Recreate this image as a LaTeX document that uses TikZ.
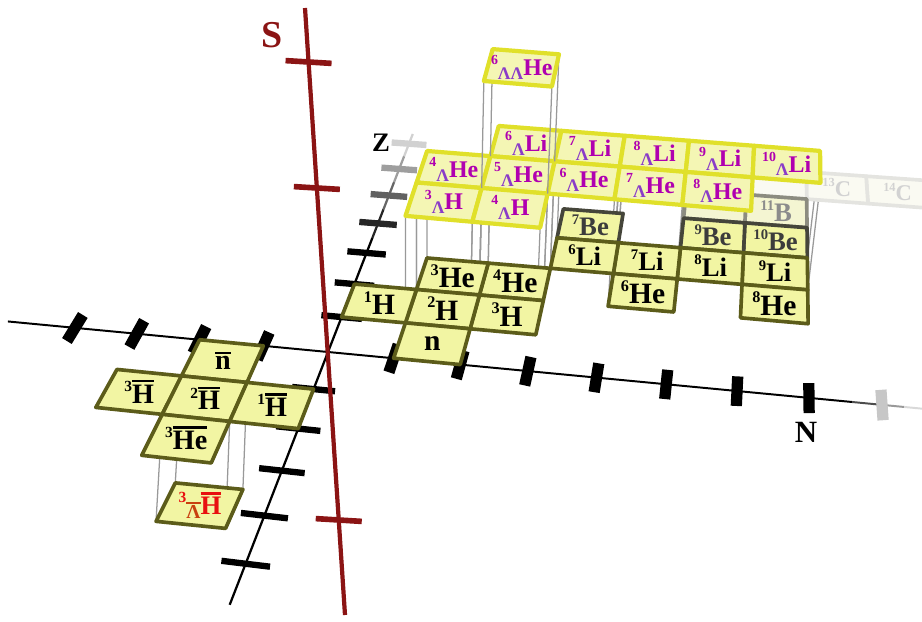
\documentclass[tikz,border=0pt]{standalone}
\usepackage{fontspec}
\setmainfont{Liberation Serif}

\newcommand{\mass}[1]{\raisebox{0.42em}{\scalebox{0.55}{#1}}}
\newcommand{\anti}[1]{\vbox{\hrule height 0.09em\kern0.08em\hbox{#1}}}
\newcommand{\hyper}[3]{\raisebox{0.45em}{\scalebox{0.58}{#1}}\raisebox{-0.16em}{\scalebox{0.74}{\color{lambdaColour}#2}}#3}

\begin{document}
\begin{tikzpicture}[x=0.025cm, y=-0.025cm,
    declare function={
      persp(\nval,\zval)=1+0.03*\zval-0.00743*\nval;
      chartx(\nval,\zval,\lval)=(328+62.7*\nval+23.84*\zval)/persp(\nval,\zval)+abs(\lval)*(2.1*\nval-2);
      charty(\nval,\zval,\lval)=(352+3.6*\nval-25.44*\zval)/persp(\nval,\zval)-107*\lval;
    },
    nAxis/.style={draw=black, line width=1.4pt},
    nTick/.style={draw=black, line width=8pt},
    zAxis/.style={draw=black, line width=1.6pt},
    zTick/.style={draw=black, line width=4.5pt},
    sAxis/.style={draw=sAxisColour, line width=3pt},
    sTick/.style={draw=sAxisColour, line width=4pt},
    riser/.style={draw=black!40, line width=0.9pt},
    groundCell/.style={fill=cellFill, draw=groundBorder, line width=2.6pt, line join=round},
    berylCell/.style={groundCell, draw=berylBorder},
    boronCell/.style={groundCell, fill=boronFill, draw=boronBorder},
    carbonCell/.style={groundCell, fill=carbonFill, draw=carbonBorder},
    hyperCell/.style={fill=hyperFill, draw=hyperBorder, line width=3pt, line join=round},
    groundLabel/.style={inner sep=0pt, font=\bfseries\fontsize{21}{21}\selectfont},
    backLabel/.style={groundLabel, font=\bfseries\fontsize{19}{19}\selectfont},
    berylLabel/.style={backLabel, text=berylText},
    boronLabel/.style={backLabel, text=boronText},
    carbonLabel/.style={groundLabel, text=carbonText, font=\bfseries\fontsize{16}{16}\selectfont},
    hyperLabel/.style={inner sep=0pt, text=hyperText, font=\bfseries\fontsize{17}{17}\selectfont},
    antiLabel/.style={groundLabel, font=\bfseries\fontsize{20}{20}\selectfont},
    antiHyperLabel/.style={groundLabel, text=antiText, font=\bfseries\fontsize{19}{19}\selectfont},
    axisLabel/.style={inner sep=0pt, font=\bfseries\fontsize{22}{22}\selectfont}]
    \definecolor{cellFill}{HTML}{F2F5A3}
    \definecolor{groundBorder}{HTML}{5C5C1A}
    \definecolor{berylBorder}{HTML}{45453A}
    \definecolor{boronFill}{HTML}{F4F5D2}
    \definecolor{boronBorder}{HTML}{8C8C80}
    \definecolor{carbonFill}{HTML}{FAFAF2}
    \definecolor{carbonBorder}{HTML}{E4E4E0}
    \definecolor{berylText}{HTML}{3C3C3C}
    \definecolor{boronText}{HTML}{8C8C8C}
    \definecolor{carbonText}{HTML}{D2D2D2}
    \definecolor{hyperFill}{HTML}{F4F6B4}
    \definecolor{hyperBorder}{HTML}{E0E02A}
    \definecolor{hyperText}{HTML}{B000B0}
    \definecolor{lambdaColour}{HTML}{8A3CC8}
    \definecolor{antiText}{HTML}{E81010}
    \definecolor{antiLambda}{HTML}{C8400F}
    \definecolor{sAxisColour}{HTML}{8B1414}

    % cell: N, Z, level, name, cell style, label style, label
    \def\cell#1#2#3#4#5#6#7{%
      \filldraw[#5] ({chartx(#1,#2,#3)},{charty(#1,#2,#3)})
        -- ({chartx(#1+1,#2,#3)},{charty(#1+1,#2,#3)})
        -- ({chartx(#1+1,#2+1,#3)},{charty(#1+1,#2+1,#3)})
        -- ({chartx(#1,#2+1,#3)},{charty(#1,#2+1,#3)}) -- cycle;
      \node[#6] (#4) at ({chartx(#1+0.5,#2+0.5,#3)},{charty(#1+0.5,#2+0.5,#3)}) {#7};}

    \useasboundingbox (0,0) rectangle (922,622);

    % Draw N axis
    \draw[nAxis] ({chartx(-5.1,0,0)},{charty(-5.1,0,0)}) -- ({chartx(7.6,0,0)},{charty(7.6,0,0)});
    \foreach \a/\b/\g in {7.6/8.0/70, 8.0/8.3/40, 8.3/8.6/15}
        \draw[nAxis, draw=black!\g] ({chartx(\a,0,0)},{charty(\a,0,0)}) -- ({chartx(\b,0,0)},{charty(\b,0,0)});
    \foreach \cn/\g in {-4/100,-3/100,-2/100,-1/100,1/100,2/100,3/100,4/100,5/100,6/100,7/100,8/22}
        \draw[nTick, draw=black!\g] ({chartx(\cn,-0.38,0)},{charty(\cn,-0.38,0)}) -- ({chartx(\cn,0.38,0)},{charty(\cn,0.38,0)});

    % Draw Z axis
    \draw[zAxis] ({chartx(0,-5.8,0)},{charty(0,-5.8,0)}) -- ({chartx(0,3.5,0)},{charty(0,3.5,0)});
    \foreach \a/\b/\g in {3.5/4.5/85, 4.5/5.5/60, 5.5/6.5/38, 6.5/7.4/18}
        \draw[zAxis, draw=black!\g] ({chartx(0,\a,0)},{charty(0,\a,0)}) -- ({chartx(0,\b,0)},{charty(0,\b,0)});
    \foreach \cz/\g in {-5/100,-4/100,-3/100,-2/100,-1/100,1/100,2/100,3/100,4/85,5/62,6/38,7/18}
        \draw[zTick, draw=black!\g] ({chartx(-0.32,\cz,0)},{charty(-0.32,\cz,0)}) -- ({chartx(0.32,\cz,0)},{charty(0.32,\cz,0)});

    % Draw S axis
    \coordinate (sTop) at (305,8);
    \coordinate (sBottom) at (345,615);
    \draw[sAxis] (sTop) -- (sBottom);
    \foreach \ty in {62,188,520}
        \draw[sTick] ({305+(\ty-8)/607*40-23},{\ty-1.4}) -- ({305+(\ty-8)/607*40+23},{\ty+1.4});

    % Risers from hypernuclei down to their cores
    \foreach \cn/\cz in {1/1,2/1,1/2,2/2,4/2,3/3,4/3,5/3,6/3}
      \foreach \dn in {0,1}
        \foreach \dz in {0,1}
          \draw[riser] ({chartx(\cn+\dn,\cz+\dz,1)},{charty(\cn+\dn,\cz+\dz,1)}) -- ({chartx(\cn+\dn,\cz+\dz,0)},{charty(\cn+\dn,\cz+\dz,0)});
    \foreach \dn in {0,1}
      \foreach \dz in {0,1}
        \draw[riser] ({chartx(-2+\dn,-2+\dz,0)},{charty(-2+\dn,-2+\dz,0)}) -- ({chartx(-2+\dn,-2+\dz,-1)},{charty(-2+\dn,-2+\dz,-1)});

    % Ground layer, back to front
    \cell{8}{6}{0}{C14}{carbonCell}{carbonLabel}{\mass{14}C}
    \cell{7}{6}{0}{C13}{carbonCell}{carbonLabel}{\mass{13}C}
    \cell{6}{6}{0}{C12}{carbonCell}{carbonLabel}{}
    \cell{6}{5}{0}{B11}{boronCell}{boronLabel}{\mass{11}B}
    \cell{5}{5}{0}{B10}{boronCell}{boronLabel}{}
    \cell{6}{4}{0}{Be10}{berylCell}{berylLabel}{\mass{10}Be}
    \cell{5}{4}{0}{Be9}{berylCell}{berylLabel}{\mass{9}Be}
    \cell{3}{4}{0}{Be7}{berylCell}{berylLabel}{\mass{7}Be}
    \cell{6}{3}{0}{Li9}{groundCell}{backLabel}{\mass{9}Li}
    \cell{5}{3}{0}{Li8}{groundCell}{backLabel}{\mass{8}Li}
    \cell{4}{3}{0}{Li7}{groundCell}{backLabel}{\mass{7}Li}
    \cell{3}{3}{0}{Li6}{groundCell}{backLabel}{\mass{6}Li}
    \cell{6}{2}{0}{He8}{groundCell}{groundLabel}{\mass{8}He}
    \cell{4}{2}{0}{He6}{groundCell}{groundLabel}{\mass{6}He}
    \cell{2}{2}{0}{He4}{groundCell}{groundLabel}{\mass{4}He}
    \cell{1}{2}{0}{He3}{groundCell}{groundLabel}{\mass{3}He}
    \cell{2}{1}{0}{H3}{groundCell}{groundLabel}{\mass{3}H}
    \cell{1}{1}{0}{H2}{groundCell}{groundLabel}{\mass{2}H}
    \cell{0}{1}{0}{H1}{groundCell}{groundLabel}{\mass{1}H}
    \cell{1}{0}{0}{neutron}{groundCell}{groundLabel}{n}

    % Antimatter
    \cell{-2}{-2}{-1}{antiHyperH3}{groundCell}{antiHyperLabel}{\hyper{3}{\color{antiLambda}\anti{Λ}}{\anti{H}}}
    \cell{-2}{-1}{0}{antiNeutron}{groundCell}{antiLabel}{\anti{n}}
    \cell{-3}{-2}{0}{antiH3}{groundCell}{antiLabel}{\mass{3}\anti{H}}
    \cell{-2}{-2}{0}{antiH2}{groundCell}{antiLabel}{\mass{2}\anti{H}}
    \cell{-1}{-2}{0}{antiH1}{groundCell}{antiLabel}{\mass{1}\anti{H}}
    \cell{-2}{-3}{0}{antiHe3}{groundCell}{antiLabel}{\mass{3}\anti{He}}

    % Single-Lambda layer
    \cell{2}{3}{1}{hLi6}{hyperCell}{hyperLabel}{\hyper{6}{Λ}{Li}}
    \cell{3}{3}{1}{hLi7}{hyperCell}{hyperLabel}{\hyper{7}{Λ}{Li}}
    \cell{4}{3}{1}{hLi8}{hyperCell}{hyperLabel}{\hyper{8}{Λ}{Li}}
    \cell{5}{3}{1}{hLi9}{hyperCell}{hyperLabel}{\hyper{9}{Λ}{Li}}
    \cell{6}{3}{1}{hLi10}{hyperCell}{hyperLabel}{\hyper{10}{Λ}{Li}}
    \cell{1}{2}{1}{hHe4}{hyperCell}{hyperLabel}{\hyper{4}{Λ}{He}}
    \cell{2}{2}{1}{hHe5}{hyperCell}{hyperLabel}{\hyper{5}{Λ}{He}}
    \cell{3}{2}{1}{hHe6}{hyperCell}{hyperLabel}{\hyper{6}{Λ}{He}}
    \cell{4}{2}{1}{hHe7}{hyperCell}{hyperLabel}{\hyper{7}{Λ}{He}}
    \cell{5}{2}{1}{hHe8}{hyperCell}{hyperLabel}{\hyper{8}{Λ}{He}}
    \cell{1}{1}{1}{hH3}{hyperCell}{hyperLabel}{\hyper{3}{Λ}{H}}
    \cell{2}{1}{1}{hH4}{hyperCell}{hyperLabel}{\hyper{4}{Λ}{H}}

    % Double-Lambda layer
    \foreach \dn in {0,1}
      \foreach \dz in {0,1}
        \draw[riser] ({chartx(2+\dn,2+\dz,2)},{charty(2+\dn,2+\dz,2)}) -- ({chartx(2+\dn,2+\dz,1)},{charty(2+\dn,2+\dz,1)});
    \cell{2}{2}{2}{hhHe6}{hyperCell}{hyperLabel}{\hyper{6}{ΛΛ}{He}}

    % Axis labels
    \node[axisLabel] (nLabel) at (806,432) {N};
    \node[axisLabel, font=\bfseries\fontsize{19}{19}\selectfont] (zLabel) at (381,143) {Z};
    \node[axisLabel, text=sAxisColour, font=\bfseries\fontsize{27}{27}\selectfont] (sLabel) at (272,35) {S};

\end{tikzpicture}
\end{document}
